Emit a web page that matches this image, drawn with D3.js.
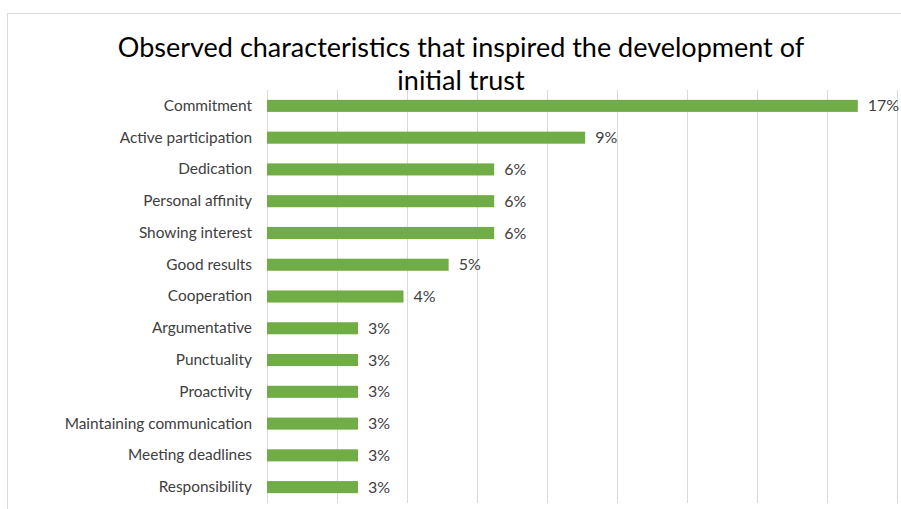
<!DOCTYPE html>
<html>
<head>
<meta charset="utf-8">
<script src="https://cdn.jsdelivr.net/npm/d3@7"></script>
<style>
  html, body { margin: 0; padding: 0; background: #fff; }
  svg { display: block; }
  text { font-family: Lato, "Open Sans", sans-serif; }
</style>
</head>
<body>
<svg id="chart" width="901" height="509"></svg>
<script>
const titleLines = ["Observed characteristics that inspired the development of", "initial trust"];
const categories = [
  "Commitment", "Active participation", "Dedication", "Personal affinity",
  "Showing interest", "Good results", "Cooperation", "Argumentative",
  "Punctuality", "Proactivity", "Maintaining communication",
  "Meeting deadlines", "Responsibility"
];
const values = [0.1688, 0.0909, 0.0649, 0.0649, 0.0649, 0.0519, 0.039, 0.026, 0.026, 0.026, 0.026, 0.026, 0.026];
const xTicks = [0, 0.02, 0.04, 0.06, 0.08, 0.10, 0.12, 0.14, 0.16, 0.18];

const svg = d3.select("#chart");
const W = 901, H = 509;
const margin = { left: 267, right: 4, top: 90, bottom: 6 };

// outer border
svg.append("rect")
  .attr("x", 7.5).attr("y", 13.5)
  .attr("width", W).attr("height", H - 11)
  .attr("fill", "none").attr("stroke", "#d9d9d9").attr("stroke-width", 1);

const x = d3.scaleLinear().domain([0, 0.18]).range([margin.left, W - margin.right]);
const y = d3.scaleBand().domain(categories).range([margin.top, H - margin.bottom]).paddingInner(0.62).paddingOuter(0.31);

// gridlines
const grid = svg.append("g")
  .attr("transform", `translate(0,${margin.top})`)
  .call(d3.axisTop(x).tickValues(xTicks).tickSize(-(H - margin.bottom - margin.top)).tickFormat(""));
grid.select(".domain").remove();
grid.selectAll(".tick line").attr("stroke", "#d9d9d9").attr("stroke-width", 1);

// bars
svg.append("g").selectAll("rect")
  .data(categories)
  .join("rect")
  .attr("x", x(0))
  .attr("y", d => y(d))
  .attr("width", (d, i) => x(values[i]) - x(0))
  .attr("height", y.bandwidth())
  .attr("fill", "#70ad47");

// category axis
const yAxis = svg.append("g")
  .attr("transform", `translate(${x(0)},0)`)
  .call(d3.axisLeft(y).tickSize(0).tickPadding(15));
yAxis.select(".domain").remove();
yAxis.selectAll("text")
  .attr("fill", "#404040")
  .style("font-family", "Lato, 'Open Sans', sans-serif")
  .style("font-size", "15.4px");

// value labels
const fmt = d3.format(".0%");
svg.append("g").selectAll("text")
  .data(categories)
  .join("text")
  .attr("x", (d, i) => x(values[i]) + 10)
  .attr("y", d => y(d) + y.bandwidth() / 2)
  .attr("dy", "0.35em")
  .attr("fill", "#404040")
  .style("font-size", "16px")
  .text((d, i) => fmt(values[i]));

// title
svg.append("g").selectAll("text")
  .data(titleLines)
  .join("text")
  .attr("x", 461)
  .attr("y", (d, i) => 57 + i * 33)
  .attr("text-anchor", "middle")
  .attr("fill", "#000")
  .style("font-size", "27px")
  .text(d => d);
</script>
</body>
</html>
